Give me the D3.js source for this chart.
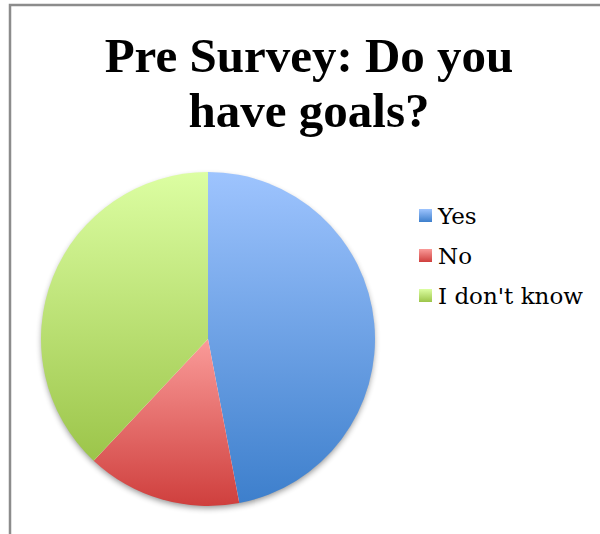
<!DOCTYPE html>
<meta charset="utf-8">
<style>
body { margin: 0; background: #fff; }
.title { font-family: "Liberation Serif", serif; font-weight: bold; font-size: 49px; fill: #000; }
.legend text { font-family: "DejaVu Serif", serif; font-size: 23px; fill: #000; }
</style>
<svg width="600" height="534"></svg>
<script src="https://cdn.jsdelivr.net/npm/d3@7"></script>
<script>

var categories = ["Yes", "No", "I don't know"],
    values = [47, 15, 38],
    topColors = ["#9ec4fe", "#fa9b99", "#dcfea2"],
    bottomColors = ["#3d7fcc", "#cf3f3d", "#9cc54a"],
    titleLines = ["Pre Survey: Do you", "have goals?"];

var svg = d3.select("svg"),
    cx = 208, cy = 339, radius = 167;

// frame (left and top edges only visible in the crop)
svg.append("path")
    .attr("d", "M10,534V5H600")
    .attr("fill", "none")
    .attr("stroke", "#8c8c8c")
    .attr("stroke-width", 2.5);

var defs = svg.append("defs");

categories.forEach(function(c, i) {
  var grad = defs.append("linearGradient")
      .attr("id", "grad" + i)
      .attr("x1", 0).attr("y1", 0).attr("x2", 0).attr("y2", 1);
  grad.append("stop").attr("offset", "0%").attr("stop-color", topColors[i]);
  grad.append("stop").attr("offset", "100%").attr("stop-color", bottomColors[i]);
});

var shadow = defs.append("filter")
    .attr("id", "shadow")
    .attr("x", "-20%").attr("y", "-20%").attr("width", "140%").attr("height", "140%");
shadow.append("feGaussianBlur").attr("in", "SourceAlpha").attr("stdDeviation", 3);
shadow.append("feOffset").attr("dy", 3).attr("result", "off");
shadow.append("feComponentTransfer").append("feFuncA").attr("type", "linear").attr("slope", 0.45);
var merge = shadow.append("feMerge");
merge.append("feMergeNode");
merge.append("feMergeNode").attr("in", "SourceGraphic");

svg.selectAll(".title")
    .data(titleLines)
  .enter().append("text")
    .attr("class", "title")
    .attr("x", 309)
    .attr("y", function(d, i) { return 72 + i * 55; })
    .attr("text-anchor", "middle")
    .text(function(d) { return d; });

var pie = d3.pie().sort(null).value(function(d) { return d; });
var arc = d3.arc().innerRadius(0).outerRadius(radius);

var g = svg.append("g")
    .attr("transform", "translate(" + cx + "," + cy + ")");

g.append("circle")
    .attr("r", radius - 1)
    .attr("fill", "#fff")
    .attr("filter", "url(#shadow)");

g.selectAll(".slice")
    .data(pie(values))
  .enter().append("path")
    .attr("class", "slice")
    .attr("d", arc)
    .attr("fill", function(d, i) { return "url(#grad" + i + ")"; });

var legend = svg.append("g")
    .attr("class", "legend")
    .selectAll("g")
    .data(categories)
  .enter().append("g")
    .attr("transform", function(d, i) { return "translate(419," + (209 + i * 40) + ")"; });

legend.append("rect")
    .attr("width", 13)
    .attr("height", 13)
    .attr("fill", function(d, i) { return "url(#grad" + i + ")"; });

legend.append("text")
    .attr("x", 19)
    .attr("y", 15)
    .text(function(d) { return d; });

</script>
